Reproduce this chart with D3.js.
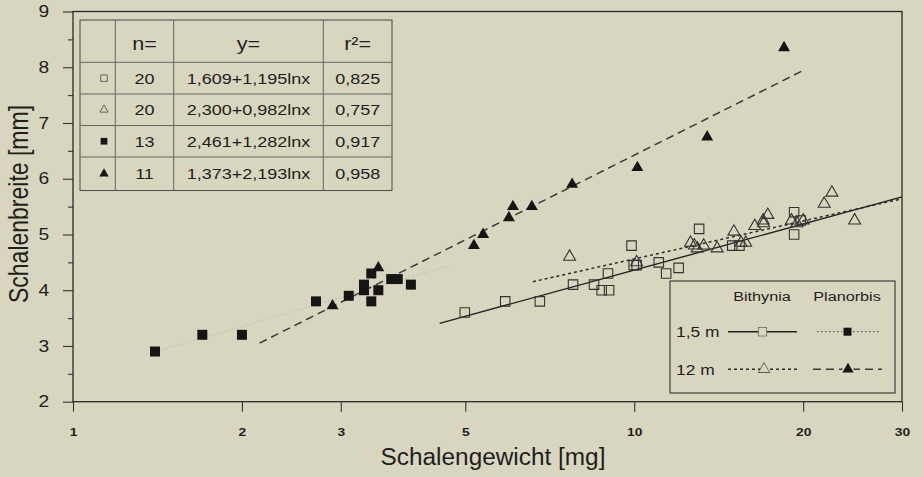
<!DOCTYPE html>
<html>
<head>
<meta charset="utf-8">
<script src="https://cdn.jsdelivr.net/npm/d3@7"></script>
<style>
body { margin: 0; background: #d9d6bf; }
svg { display: block; }
text { font-family: "Liberation Sans", Arial, sans-serif; fill: #1e1e1e; }
</style>
</head>
<body>
<div id="chart"></div>
<script>
// values
// Bithynia 1,5 m (open squares)
var bith15X = [4.99, 5.89, 6.79, 7.78, 8.48, 8.75, 9.02, 8.98, 9.89, 9.98, 10.1, 11.06, 11.4, 12.0, 13.05, 14.95, 15.4, 19.27, 19.27, 19.8];
var bith15Y = [3.6, 3.8, 3.8, 4.1, 4.1, 4.0, 4.0, 4.3, 4.8, 4.45, 4.45, 4.5, 4.3, 4.4, 5.1, 4.8, 4.8, 5.4, 5.0, 5.25];
// Bithynia 12 m (open triangles)
var bith12X = [7.67, 10.1, 12.6, 12.95, 12.8, 13.3, 14.05, 15.05, 15.5, 15.8, 16.4, 16.97, 17.0, 17.3, 19.06, 19.5, 20.0, 21.8, 22.5, 24.7];
var bith12Y = [4.6, 4.5, 4.85, 4.75, 4.8, 4.8, 4.75, 5.05, 4.85, 4.85, 5.15, 5.25, 5.2, 5.35, 5.25, 5.2, 5.25, 5.55, 5.75, 5.25];
// Planorbis 1,5 m (filled squares)
var plan15X = [1.4, 1.7, 2.0, 2.71, 3.1, 3.3, 3.3, 3.4, 3.4, 3.5, 3.69, 3.79, 4.0];
var plan15Y = [2.9, 3.2, 3.2, 3.8, 3.9, 4.1, 4.0, 4.3, 3.8, 4.0, 4.2, 4.2, 4.1];
// Planorbis 12 m (filled triangles)
var plan12X = [2.9, 3.5, 5.18, 5.38, 5.98, 6.08, 6.57, 7.75, 10.13, 13.49, 18.49];
var plan12Y = [3.72, 4.4, 4.8, 5.0, 5.3, 5.5, 5.5, 5.9, 6.2, 6.75, 8.35];

// regression y = a + b ln x, order: open sq, open tri, filled sq, filled tri
var fitA = [1.609, 2.300, 2.461, 1.373];
var fitB = [1.195, 0.982, 1.282, 2.193];
var fitFrom = [4.5, 6.6, 1.4, 2.15];
var fitTo = [30, 30, 4.7, 19.9];

var tableHead = ["n=", "y=", "r\u00b2="];
var tableN = ["20", "20", "13", "11"];
var tableEq = ["1,609+1,195lnx", "2,300+0,982lnx", "2,461+1,282lnx", "1,373+2,193lnx"];
var tableR2 = ["0,825", "0,757", "0,917", "0,958"];

var legendCols = ["Bithynia", "Planorbis"];
var legendRows = ["1,5 m", "12 m"];

var xTicks = [1, 2, 3, 5, 10, 20, 30];
var yTicks = [2, 3, 4, 5, 6, 7, 8, 9];
var yMinor = [2.5, 3.5, 4.5, 5.5, 6.5, 7.5, 8.5];

var svgWidth = 923;
var svgHeight = 477;
var margin = {top: 11.5, right: 21, bottom: 75.3, left: 73};
var width = svgWidth - margin.left - margin.right;
var height = svgHeight - margin.top - margin.bottom;
var SX = 1.2; // the scan is stretched sideways

var svg = d3.select("#chart").append("svg")
    .attr("width", svgWidth)
    .attr("height", svgHeight);

var chart = svg.append("g")
    .attr("transform", `translate(${margin.left}, ${margin.top})`);

var xscale = d3.scaleLog().domain([1, 30]).range([0, width]);
var yscale = d3.scaleLinear().domain([2, 9]).range([height, 0]);

// axes
var xAxis = chart.append("g")
    .attr("transform", `translate(0, ${height})`)
    .call(d3.axisBottom(xscale).tickValues(xTicks).tickFormat(d => d).tickSize(10).tickPadding(16));
xAxis.selectAll("text")
    .attr("transform", `scale(${SX},1)`)
    .style("font", "bold 11.5px 'Liberation Sans', Arial, sans-serif");

var yAxis = chart.append("g")
    .call(d3.axisLeft(yscale).tickValues(yTicks).tickFormat(d => d).tickSize(10));
yAxis.selectAll("text")
    .attr("x", -23.7 / SX)
    .attr("transform", `scale(${SX},1)`)
    .style("font-size", "16px");

var yAxisMinor = chart.append("g")
    .call(d3.axisLeft(yscale).tickValues(yMinor).tickFormat("").tickSize(5));

chart.selectAll(".domain").remove();
chart.selectAll(".tick line").attr("stroke", "#333").attr("stroke-width", 1.1);

// frame
chart.append("rect")
    .attr("width", width)
    .attr("height", height)
    .attr("fill", "none")
    .attr("stroke", "#2a2a2a")
    .attr("stroke-width", 1.3);

// axis titles
svg.append("text")
    .attr("transform", "translate(493, 465) scale(1.06,1)")
    .attr("text-anchor", "middle")
    .style("font-size", "23px")
    .text("Schalengewicht [mg]");

svg.append("text")
    .attr("transform", `translate(28, 204) rotate(-90) scale(1,${SX})`)
    .attr("text-anchor", "middle")
    .style("font-size", "23px")
    .text("Schalenbreite [mm]");

// regression lines
var fitStyle = [
    {dash: null, color: "#222", w: 1.4, op: 1},
    {dash: "3,3", color: "#2a2a2a", w: 1.5, op: 1},
    {dash: "1.5,2.5", color: "#888", w: 1.2, op: 0.3},
    {dash: "8,5", color: "#3a3a3a", w: 1.5, op: 1}
];
var line = d3.line().x(d => xscale(d[0])).y(d => yscale(d[1]));
fitA.forEach(function (a, i) {
    var pts = [fitFrom[i], fitTo[i]].map(x => [x, a + fitB[i] * Math.log(x)]);
    chart.append("path")
        .attr("d", line(pts))
        .attr("fill", "none")
        .attr("stroke", fitStyle[i].color)
        .attr("stroke-width", fitStyle[i].w)
        .attr("stroke-opacity", fitStyle[i].op)
        .attr("stroke-dasharray", fitStyle[i].dash);
});

// points
function drawPoints(xs, ys, type, size, filled) {
    var sym = d3.symbol().type(type).size(size);
    chart.selectAll(null)
        .data(xs.map((x, i) => [x, ys[i]]))
        .enter()
        .append("path")
        .attr("d", sym)
        .attr("transform", d => `translate(${xscale(d[0])}, ${yscale(d[1])})`)
        .attr("fill", filled ? "#151515" : "none")
        .attr("stroke", filled ? "none" : "#333")
        .attr("stroke-width", 1.1);
}
drawPoints(bith15X, bith15Y, d3.symbolSquare, 90, false);
drawPoints(bith12X, bith12Y, d3.symbolTriangle, 62, false);
drawPoints(plan15X, plan15Y, d3.symbolSquare, 100, true);
drawPoints(plan12X, plan12Y, d3.symbolTriangle, 62, true);

// table top left
var colX = [80, 115.3, 173.7, 323.3, 392];
var rowY = [20, 62.3, 94, 125.5, 157, 190.5];
var table = svg.append("g");
table.append("rect")
    .attr("x", colX[0]).attr("y", rowY[0])
    .attr("width", colX[4] - colX[0]).attr("height", rowY[5] - rowY[0])
    .attr("fill", "none").attr("stroke", "#555").attr("stroke-width", 1.1);
colX.slice(1, 4).forEach(function (x) {
    table.append("line").attr("x1", x).attr("x2", x).attr("y1", rowY[0]).attr("y2", rowY[5])
        .attr("stroke", "#666").attr("stroke-width", 1);
});
rowY.slice(1, 5).forEach(function (y) {
    table.append("line").attr("x1", colX[0]).attr("x2", colX[4]).attr("y1", y).attr("y2", y)
        .attr("stroke", "#666").attr("stroke-width", 1);
});
function cellText(txt, cx, cy, size) {
    table.append("text")
        .attr("transform", `translate(${cx}, ${cy}) scale(${SX},1)`)
        .attr("text-anchor", "middle")
        .attr("dy", "0.36em")
        .style("font-size", size + "px")
        .text(txt);
}
tableHead.forEach(function (t, i) {
    cellText(t, (colX[i + 1] + colX[i + 2]) / 2, 44, 18);
});
var tableSym = [
    {type: d3.symbolSquare, size: 42, filled: false},
    {type: d3.symbolTriangle, size: 30, filled: false},
    {type: d3.symbolSquare, size: 45, filled: true},
    {type: d3.symbolTriangle, size: 38, filled: true}
];
tableN.forEach(function (t, i) {
    var cy = (rowY[i + 1] + rowY[i + 2]) / 2;
    table.append("path")
        .attr("d", d3.symbol().type(tableSym[i].type).size(tableSym[i].size))
        .attr("transform", `translate(104, ${cy})`)
        .attr("fill", tableSym[i].filled ? "#151515" : "none")
        .attr("stroke", tableSym[i].filled ? "none" : "#555")
        .attr("stroke-width", 0.9);
    cellText(t, (colX[1] + colX[2]) / 2, cy, 15);
    cellText(tableEq[i], (colX[2] + colX[3]) / 2, cy, 15);
    cellText(tableR2[i], (colX[3] + colX[4]) / 2, cy, 15);
});

// legend bottom right
var legend = svg.append("g");
legend.append("rect")
    .attr("x", 670).attr("y", 281).attr("width", 225).attr("height", 112)
    .attr("fill", "none").attr("stroke", "#333").attr("stroke-width", 1.1);
[762, 847].forEach(function (cx, i) {
    legend.append("text")
        .attr("transform", `translate(${cx}, 301) scale(${SX},1)`)
        .attr("text-anchor", "middle")
        .style("font-size", "13.5px")
        .text(legendCols[i]);
});
[331.7, 369.3].forEach(function (cy, i) {
    legend.append("text")
        .attr("transform", `translate(676, ${cy}) scale(${SX},1)`)
        .attr("dy", "0.36em")
        .style("font-size", "14.5px")
        .text(legendRows[i]);
});
var legendSamples = [
    {x1: 728, x2: 797, mx: 762.5, y: 331.7, s: 0},
    {x1: 817, x2: 879, mx: 847.5, y: 331.7, s: 2},
    {x1: 728, x2: 797, mx: 764, y: 369.3, s: 1},
    {x1: 813, x2: 882, mx: 848, y: 369.3, s: 3}
];
var legendMark = [
    {type: d3.symbolSquare, size: 64, filled: false},
    {type: d3.symbolTriangle, size: 48, filled: false},
    {type: d3.symbolSquare, size: 64, filled: true},
    {type: d3.symbolTriangle, size: 55, filled: true}
];
legendSamples.forEach(function (d) {
    var st = fitStyle[d.s];
    legend.append("line")
        .attr("x1", d.x1).attr("x2", d.x2).attr("y1", d.y).attr("y2", d.y)
        .attr("stroke", d.s === 2 ? "#444" : st.color)
        .attr("stroke-width", d.s === 2 ? 1 : st.w)
        .attr("stroke-dasharray", st.dash);
    legend.append("path")
        .attr("d", d3.symbol().type(legendMark[d.s].type).size(legendMark[d.s].size))
        .attr("transform", `translate(${d.mx}, ${d.y})`)
        .attr("fill", legendMark[d.s].filled ? "#151515" : "#d9d6bf")
        .attr("stroke", legendMark[d.s].filled ? "#d9d6bf" : "#333")
        .attr("stroke-width", legendMark[d.s].filled ? 3 : 1.1)
        .attr("paint-order", "stroke");
});
</script>
</body>
</html>
